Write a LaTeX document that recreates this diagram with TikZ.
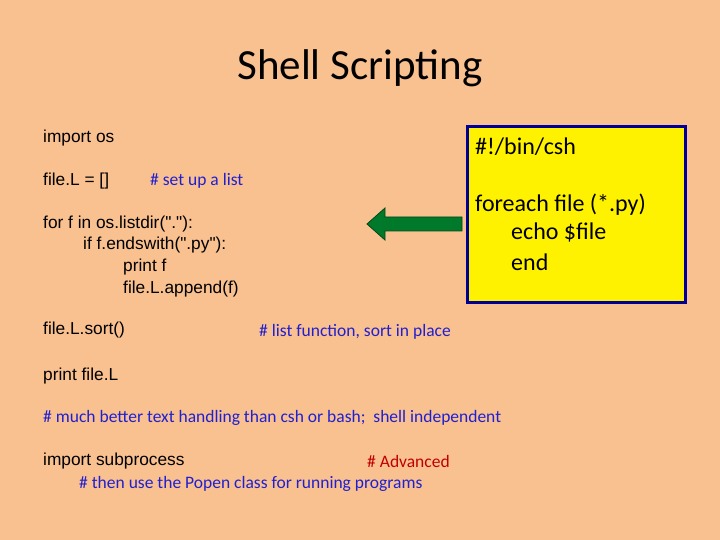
\documentclass[tikz,border=0pt]{standalone}
\usepackage{fontspec}
\setmainfont{Liberation Sans}[Ligatures=TeXOff]
\newfontfamily\carl{Carlito}
\definecolor{bg}{HTML}{F9C090}
\definecolor{cmt}{HTML}{2020D0}
\definecolor{adv}{HTML}{C00000}
\definecolor{grn}{HTML}{007A2A}
\begin{document}
\begin{tikzpicture}[x=1pt,y=-1pt,
  code/.style={anchor=west,inner sep=0pt,font=\fontsize{17.3}{19}\selectfont},
  cmtx/.style={anchor=west,inner sep=0pt,text=cmt,font=\carl\fontsize{17.5}{19}\selectfont},
  box/.style={anchor=west,inner sep=0pt,font=\carl\fontsize{24}{26}\selectfont}]
\fill[bg] (0,0) rectangle (720,540);
\useasboundingbox (0,0) rectangle (720,540);
\node[inner sep=0pt,font=\carl\fontsize{43}{46}\selectfont] (title) at (360,68) {Shell Scripting};
\node[code] (l1) at (43,138) {import os};
\node[code] (l2) at (43,181) {file.L = []};
\node[cmtx] (c2) at (150,181) {\# set up a list};
\node[code] (l3) at (43,224) {for f in os.listdir("."):};
\node[code] (l4) at (83,245) {if f.endswith(".py"):};
\node[code] (l5) at (123,267) {print f};
\node[code] (l6) at (123,289) {file.L.append(f)};
\node[code] (l7) at (43,330) {file.L.sort()};
\node[cmtx] (c7) at (259,332) {\# list function, sort in place};
\node[code] (l8) at (43,376) {print file.L};
\node[cmtx] (c8) at (43,418) {\# much better text handling than csh or bash;\ \ shell independent};
\node[code] (l9) at (43,461) {import subprocess};
\node[cmtx,text=adv] (c9) at (367,461) {\# Advanced};
\node[cmtx] (c10) at (79,484) {\# then use the Popen class for running programs};
\draw[line width=3pt,draw=blue!60!black,fill=yellow] (467,127) rectangle (685,302);
\node[box] (b1) at (475,147) {\#!/bin/csh};
\node[box] (b2) at (475,205) {foreach file (*.py)};
\node[box] (b3) at (511,233) {echo \$file};
\node[box] (b4) at (511,262) {end};
\draw[fill=grn,draw=grn!60!black,line width=0.8pt] (462,217) -- (385,217) -- (385,208) -- (367,224) -- (385,240) -- (385,231) -- (462,231) -- cycle;
\end{tikzpicture}
\end{document}
